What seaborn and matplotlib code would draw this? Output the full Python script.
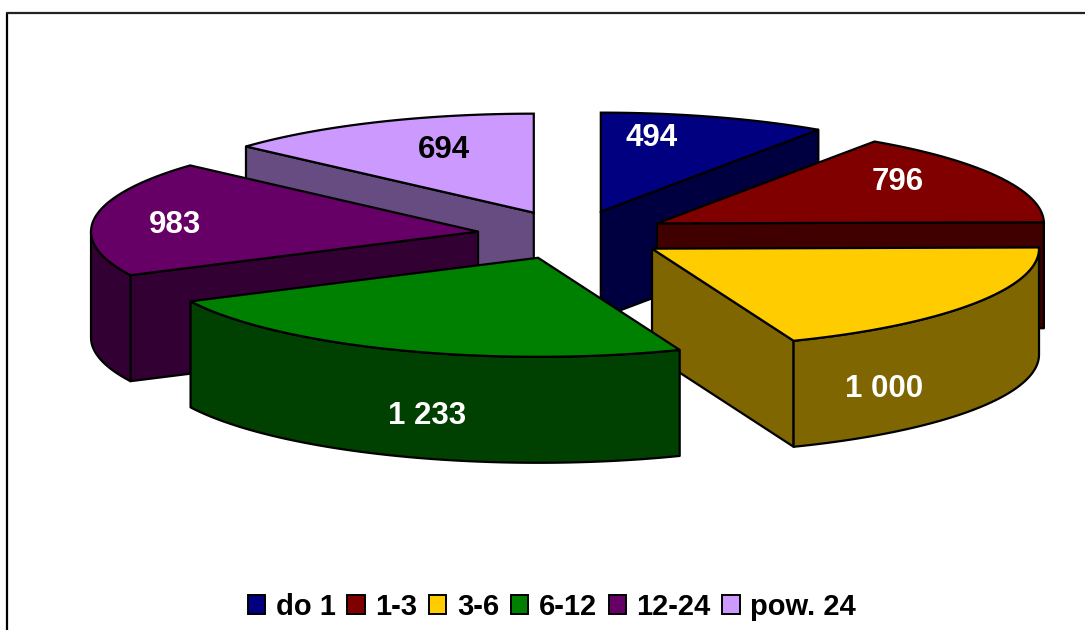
import numpy as np
import pandas as pd
import seaborn as sns
import matplotlib.pyplot as plt
from matplotlib.patches import Patch

categories = ["do 1", "1-3", "3-6", "6-12", "12-24", "pow. 24"]
values = [494, 796, 1000, 1233, 983, 694]
value_labels = ["494", "796", "1 000", "1 233", "983", "694"]
top_colors = ["#000080", "#800000", "#FFCC00", "#008000", "#660066", "#CC99FF"]
side_colors = ["#000040", "#400000", "#806600", "#004000", "#330033", "#664C80"]
label_colors = ["white", "white", "white", "white", "white", "black"]
# label centres in picture pixels
label_x = [652, 898, 884, 427, 175, 444]
label_y = [138, 182, 389, 416, 225, 150]

# pie geometry, in picture pixels
CX, CY = 572.7, 235
RX, RY = 387, 99
DEPTH = 106
EXPLODE = 0.247
LW = 1.6

sns.set_theme(style="white")
plt.rcParams["font.family"] = ["Liberation Sans", "DejaVu Sans"]

df = pd.DataFrame({"cat": categories, "value": values, "label": value_labels})
df["span"] = df["value"] / df["value"].sum() * 2 * np.pi
df["end"] = df["span"].cumsum()
df["start"] = df["end"] - df["span"]
df["mid"] = (df["start"] + df["end"]) / 2
df["ax"] = CX + EXPLODE * RX * np.sin(df["mid"])
df["ay"] = CY - EXPLODE * RY * np.cos(df["mid"])
df["top"] = sns.color_palette(top_colors)
df["side"] = sns.color_palette(side_colors)

fig = plt.figure(figsize=(10.85, 6.3), dpi=100)
ax = fig.add_axes([0, 0, 1, 1])
ax.set_xlim(0, 1085)
ax.set_ylim(630, 0)
ax.axis("off")

# chart frame, runs off the right and bottom of the picture
ax.plot([6.5, 6.5], [640, 12.5], color="black", lw=1.6)
ax.plot([6.5, 1095], [12.5, 12.5], color="#222222", lw=1.6)


def arc(row, a, b):
    t = np.linspace(a, b, max(2, int((b - a) * 120)))
    return row["ax"] + RX * np.sin(t), row["ay"] - RY * np.cos(t)


def side(xs, ys, color):
    px = np.concatenate([xs, xs[::-1]])
    py = np.concatenate([ys, ys[::-1] + DEPTH])
    ax.fill(px, py, facecolor=color, edgecolor="black", lw=LW, joinstyle="round")


# back slices first, so the nearer ones paint over them
for _, row in df.sort_values("ay").iterrows():
    x0, y0 = arc(row, row["start"], row["start"] + 1e-6)
    x1, y1 = arc(row, row["end"] - 1e-6, row["end"])
    if np.sin(row["start"]) < 0:
        side(np.array([row["ax"], x0[0]]), np.array([row["ay"], y0[0]]), row["side"])
    if np.sin(row["end"]) > 0:
        side(np.array([row["ax"], x1[-1]]), np.array([row["ay"], y1[-1]]), row["side"])
    # rim is only seen on the front half of the ellipse
    a = max(row["start"], np.pi / 2)
    b = min(row["end"], 3 * np.pi / 2)
    if b > a:
        side(*arc(row, a, b), row["side"])
    xs, ys = arc(row, row["start"], row["end"])
    ax.fill(np.r_[row["ax"], xs], np.r_[row["ay"], ys], facecolor=row["top"],
            edgecolor="black", lw=LW)

for i, text in enumerate(value_labels):
    ax.text(label_x[i], label_y[i], text, color=label_colors[i], fontsize=22.5,
            fontweight="bold", ha="center", va="center")

handles = [Patch(facecolor=c, edgecolor="black", lw=1.4, label=n)
           for c, n in zip(top_colors, categories)]
ax.legend(handles=handles, ncol=6, loc="center", bbox_to_anchor=(552, 607),
          bbox_transform=ax.transData, frameon=False, borderpad=0, borderaxespad=0,
          prop={"size": 21, "weight": "bold"}, labelcolor="black",
          handlelength=0.6, handleheight=0.6,
          handletextpad=0.36, columnspacing=0.4, labelspacing=0)

fig.savefig("out.png", dpi=100)
